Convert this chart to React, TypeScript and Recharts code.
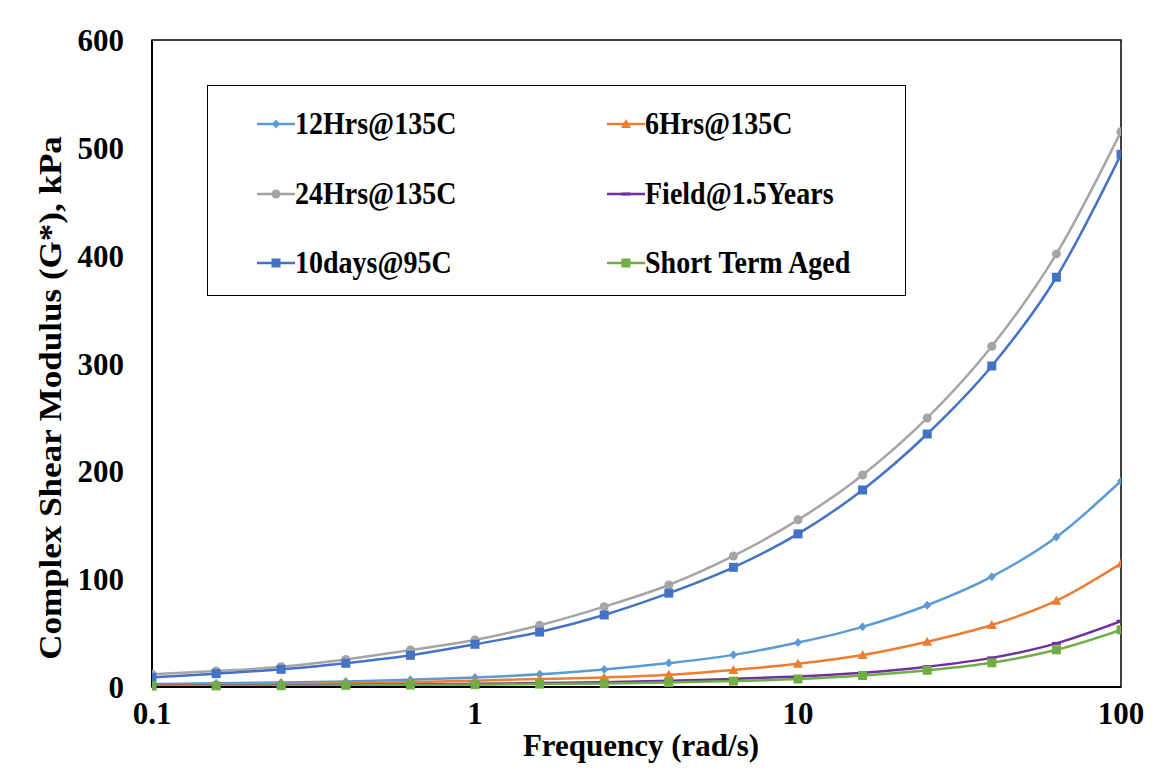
import { LineChart, Line, XAxis, YAxis } from 'recharts';

const freq = [0.1, 0.158, 0.251, 0.398, 0.631, 1, 1.585, 2.512, 3.981, 6.31, 10, 15.85, 25.12, 39.81, 63.1, 100];
const hrs12 = [2.8, 3.4, 4.2, 5.2, 6.8, 8.8, 11.8, 16.2, 22.2, 29.8, 41.2, 55.8, 75.8, 102.3, 139, 191];
const hrs6 = [1.5, 2.0, 2.6, 3.4, 4.5, 5.9, 7.4, 8.8, 11.3, 15.8, 21.5, 29.6, 42, 57.5, 80, 114.5];
const hrs24 = [11.8, 14.8, 18.8, 25.6, 34.3, 43.6, 57.2, 74.5, 94.6, 121.5, 155, 196.6, 249.5, 316, 401.6, 515];
const field = [1.0, 1.2, 1.5, 1.8, 2.3, 2.9, 3.6, 4.5, 5.8, 7.5, 9.8, 13.2, 18.8, 27, 40.5, 61];
const days10 = [9.0, 12.4, 16.4, 22, 29.4, 39.6, 51, 66.8, 87, 111, 142, 182.7, 234.6, 297.7, 380, 494];
const shortTerm = [0.8, 1.0, 1.2, 1.5, 1.8, 2.2, 2.7, 3.3, 4.2, 5.5, 7.4, 10.6, 15.5, 22.5, 34.5, 53];

const xTicks = [0.1, 1, 10, 100];
const yTicks = [0, 100, 200, 300, 400, 500, 600];

type Shape = 'diamond' | 'triangle' | 'circle' | 'dash' | 'square';

const series: { key: string; name: string; color: string; shape: Shape; values: number[] }[] = [
  { key: 'hrs12', name: '12Hrs@135C', color: '#5B9BD5', shape: 'diamond', values: hrs12 },
  { key: 'hrs6', name: '6Hrs@135C', color: '#ED7D31', shape: 'triangle', values: hrs6 },
  { key: 'hrs24', name: '24Hrs@135C', color: '#A5A5A5', shape: 'circle', values: hrs24 },
  { key: 'field', name: 'Field@1.5Years', color: '#7030A0', shape: 'dash', values: field },
  { key: 'days10', name: '10days@95C', color: '#4472C4', shape: 'square', values: days10 },
  { key: 'shortTerm', name: 'Short Term Aged', color: '#70AD47', shape: 'square', values: shortTerm },
];

const data = freq.map((f, i) => {
  const row: Record<string, number> = { f };
  series.forEach((s) => (row[s.key] = s.values[i]));
  return row;
});

const FONT = '"Liberation Serif", "Times New Roman", serif';

function Marker({ cx, cy, shape, color }: { cx: number; cy: number; shape: Shape; color: string }) {
  switch (shape) {
    case 'diamond':
      return <path d={`M${cx},${cy - 4.5}L${cx + 4},${cy}L${cx},${cy + 4.5}L${cx - 4},${cy}Z`} fill={color} />;
    case 'triangle':
      return <path d={`M${cx},${cy - 5}L${cx + 5},${cy + 4}L${cx - 5},${cy + 4}Z`} fill={color} />;
    case 'circle':
      return <circle cx={cx} cy={cy} r={4.5} fill={color} />;
    case 'dash':
      return <rect x={cx - 4.5} y={cy - 1.5} width={9} height={3} fill={color} />;
    default:
      return <rect x={cx - 4.5} y={cy - 4.5} width={9} height={9} fill={color} />;
  }
}

const tickStyle = { fill: '#000', fontSize: 31, fontWeight: 700, fontFamily: FONT };

export default function App() {
  return (
    <div style={{ position: 'relative', width: 1156, height: 783, margin: -8, overflow: 'hidden', background: '#fff' }}>
      <svg width={1156} height={783} style={{ position: 'absolute', left: 0, top: 0 }}>
        <rect x={3.5} y={6.5} width={1148} height={800} fill="none" stroke="#222" strokeWidth={1.2} />
        <rect x={152} y={40} width={969} height={647} fill="none" stroke="#000" strokeWidth={1.5} />
        <text x={580} y={0} textAnchor="middle" fontFamily={FONT} fontWeight={700} fontSize={30}>(a)</text>
        <text
          transform="translate(61,398) rotate(-90) scale(1.13,1)"
          textAnchor="middle"
          fontFamily={FONT}
          fontWeight={700}
          fontSize={31}
        >
          Complex Shear Modulus (G*), kPa
        </text>
        <text x={641} y={756} textAnchor="middle" fontFamily={FONT} fontWeight={700} fontSize={31}>
          Frequency (rad/s)
        </text>
      </svg>

      <div style={{ position: 'absolute', left: 0, top: 0 }}>
        <LineChart width={1156} height={783} data={data} margin={{ top: 40, right: 35, bottom: 56, left: 0 }}>
          <XAxis
            dataKey="f"
            type="number"
            scale="log"
            domain={[0.1, 100]}
            ticks={xTicks}
            allowDataOverflow
            height={40}
            tickLine={false}
            tickSize={0}
            tickMargin={15}
            axisLine={{ stroke: '#000', strokeWidth: 2 }}
            tick={tickStyle}
          />
          <YAxis
            type="number"
            domain={[0, 600]}
            ticks={yTicks}
            width={152}
            tickLine={false}
            tickSize={0}
            tickMargin={28}
            axisLine={{ stroke: '#000', strokeWidth: 2 }}
            tick={tickStyle}
          />
          {series.map((s) => (
            <Line
              key={s.key}
              dataKey={s.key}
              name={s.name}
              type="monotone"
              stroke={s.color}
              strokeWidth={2.5}
              isAnimationActive={false}
              activeDot={false}
              dot={(p: any) => <Marker key={`${s.key}-${p.index}`} cx={p.cx} cy={p.cy} shape={s.shape} color={s.color} />}
            />
          ))}
        </LineChart>
      </div>

      <div
        style={{
          position: 'absolute',
          left: 207,
          top: 85,
          width: 697,
          height: 209,
          border: '1.5px solid #000',
          background: '#fff',
          fontFamily: FONT,
          fontWeight: 700,
          fontSize: 28,
        }}
      >
        {series.map((s, i) => {
          const col = i % 2;
          const row = Math.floor(i / 2);
          return (
            <div
              key={s.key}
              style={{
                position: 'absolute',
                left: col === 0 ? 49 : 399,
                top: [38, 108, 177][row] - 18,
                height: 36,
                display: 'flex',
                alignItems: 'center',
                whiteSpace: 'nowrap',
              }}
            >
              <svg width={38} height={36}>
                <line x1={0} y1={18} x2={38} y2={18} stroke={s.color} strokeWidth={2.5} />
                <Marker cx={19} cy={18} shape={s.shape} color={s.color} />
              </svg>
              <span style={{ lineHeight: '36px', display: 'inline-block', transform: 'scaleY(1.12)' }}>{s.name}</span>
            </div>
          );
        })}
      </div>
    </div>
  );
}
